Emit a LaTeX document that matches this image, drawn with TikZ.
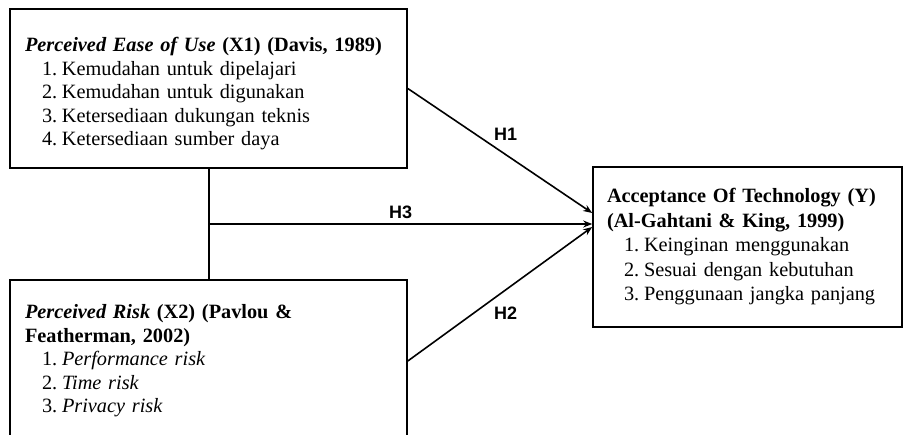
\documentclass[tikz,border=0pt]{standalone}
\usepackage{fontspec}
\setmainfont{Liberation Serif}
\setsansfont{Liberation Sans}
\usetikzlibrary{positioning,arrows.meta}

\newcommand{\litem}[2]{\hspace*{17pt}\makebox[20pt][l]{#1}#2}
\tikzset{
  varbox/.style={draw, line width=1.6pt, align=left, inner xsep=15pt, inner ysep=0pt,
    font=\fontsize{20.3}{23.5}\selectfont},
  hyp/.style={line width=1.6pt, -{Stealth[length=9pt,width=7pt]}},
  hlabel/.style={font=\sffamily\bfseries\fontsize{18}{20}\selectfont}
}

\begin{document}
\begin{tikzpicture}[x=1pt,y=-1pt]
    \useasboundingbox (0,0) rectangle (904,434);
    \clip (0,0) rectangle (904,434);
    \node [varbox, text width=367pt, minimum height=159pt] (peou) at (208.5,88.5)
      {\rule{0pt}{25pt}\textbf{\textit{Perceived Ease of Use}} \textbf{(X1) (Davis, 1989)}\\
       \litem{1.}{Kemudahan untuk dipelajari}\\
       \litem{2.}{Kemudahan untuk digunakan}\\
       \litem{3.}{Ketersediaan dukungan teknis}\\
       \litem{4.}{Ketersediaan sumber daya}};
    \node [varbox, text width=367pt, minimum height=162pt] (pr) at (208.5,361)
      {\textbf{\textit{Perceived Risk}} \textbf{(X2) (Pavlou \&}\\
       \textbf{Featherman, 2002)}\\
       \litem{1.}{\textit{Performance risk}}\\
       \litem{2.}{\textit{Time risk}}\\
       \litem{3.}{\textit{Privacy risk}}};
    \node [varbox, font=\fontsize{20.3}{24.5}\selectfont, inner xsep=14pt, text width=281pt,
      minimum height=160pt] (aot) at (747.5,247)
      {\textbf{Acceptance Of Technology (Y)}\\
       \textbf{(Al-Gahtani \& King, 1999)}\\
       \litem{1.}{Keinginan menggunakan}\\
       \litem{2.}{Sesuai dengan kebutuhan}\\
       \litem{3.}{Penggunaan jangka panjang}};

    \draw [line width=1.6pt] ([xshift=0.5pt]peou.south) -- ([xshift=0.5pt]pr.north);
    \coordinate (mid) at ([xshift=0.5pt]peou.south |- 0,224);
    \coordinate (in1) at ([yshift=34pt]aot.west);
    \coordinate (in3) at ([yshift=23pt]aot.west);
    \coordinate (in2) at ([yshift=20pt]aot.west);

    \draw [hyp] (peou.east) -- node [hlabel, pos=0.53, above = 10pt] {H1} (in1);
    \draw [hyp] (mid) -- node [hlabel, above = 1pt] {H3} (in3);
    \draw [hyp] (pr.east) -- node [hlabel, pos=0.53, below = 13pt] {H2} (in2);
  \end{tikzpicture}
\end{document}
